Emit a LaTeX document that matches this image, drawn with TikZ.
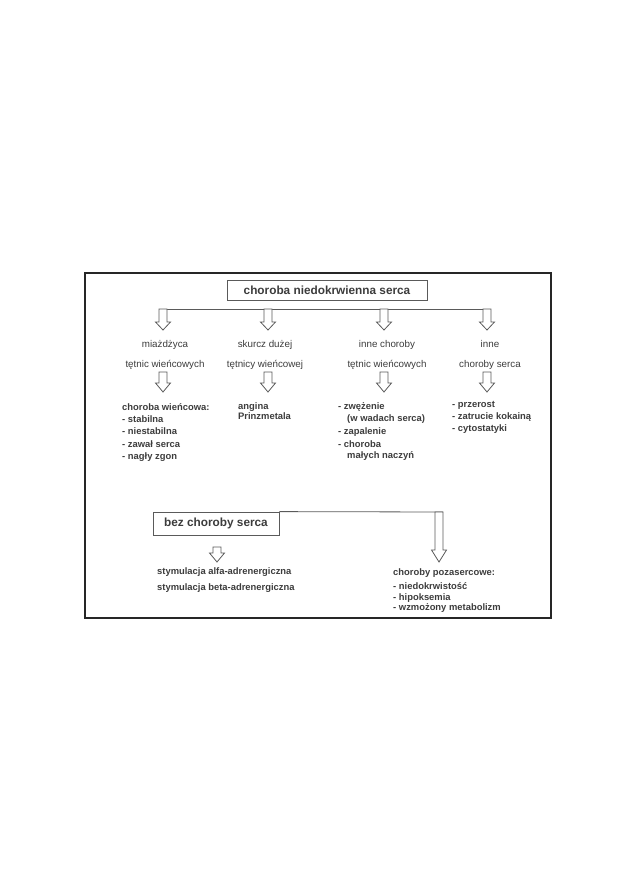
\documentclass[tikz,border=0pt]{standalone}
\usepackage{fontspec}
\setmainfont{Liberation Sans}
\usetikzlibrary{calc}
\definecolor{txt}{HTML}{3C3C3C}
\definecolor{ln}{HTML}{5A5A5A}
\newcommand{\harrow}[3][8]{\draw[hollow] ($(#2)+(-4,0)$) -- ($(#3)+(-4,-#1)$) -- ($(#3)+(-7.5,-#1)$) -- (#3) -- ($(#3)+(7.5,-#1)$) -- ($(#3)+(4,-#1)$) -- ($(#2)+(4,0)$) -- cycle;}

\begin{document}
\begin{tikzpicture}[x=1pt, y=-1pt,
  hdr/.style={font=\fontsize{9.8}{12}\selectfont, text=txt, inner sep=0pt, anchor=mid},
  item/.style={font=\bfseries\fontsize{9.4}{11}\selectfont, text=txt, inner sep=0pt, anchor=mid west},
  box/.style={draw=ln, line width=0.8pt, font=\bfseries\fontsize{11.8}{13}\selectfont, text=txt, inner sep=0pt},
  hollow/.style={draw=ln, line width=0.8pt, fill=white}]
\useasboundingbox (0,0) rectangle (630,893);
\draw[line width=1.1pt, black!85] (85,273) rectangle (551,618);

\node[box, minimum width=200pt, minimum height=20pt] (title) at (327,290) {choroba niedokrwienna serca};

\coordinate (a1) at (163,309); \coordinate (t1) at (163,330);
\coordinate (a2) at (268,309); \coordinate (t2) at (268,330);
\coordinate (a3) at (384,309); \coordinate (t3) at (384,330);
\coordinate (a4) at (487,309); \coordinate (t4) at (487,330);
\draw[ln, line width=0.8pt] ($(a1)+(-4,0)$) -- ($(a4)+(4,0)$);
\harrow{a1}{t1}
\harrow{a2}{t2}
\harrow{a3}{t3}
\harrow{a4}{t4}

\node[hdr] (h1a) at (165,345) {miażdżyca};
\node[hdr] (h1b) at (165,365) {tętnic wieńcowych};
\node[hdr] (h2a) at (265,345) {skurcz dużej};
\node[hdr] (h2b) at (265,365) {tętnicy wieńcowej};
\node[hdr] (h3a) at (387,345) {inne choroby};
\node[hdr] (h3b) at (387,365) {tętnic wieńcowych};
\node[hdr] (h4a) at (490,345) {inne};
\node[hdr] (h4b) at (490,365) {choroby serca};

\coordinate (c1) at (163,372); \coordinate (d1) at (163,392);
\coordinate (c2) at (268,372); \coordinate (d2) at (268,392);
\coordinate (c3) at (384,372); \coordinate (d3) at (384,392);
\coordinate (c4) at (487,372); \coordinate (d4) at (487,392);
\harrow[9]{c1}{d1}
\harrow[9]{c2}{d2}
\harrow[9]{c3}{d3}
\harrow[9]{c4}{d4}

\node[item] (l1a) at (122,408) {choroba wieńcowa:};
\node[item] (l1b) at (122,420) {- stabilna};
\node[item] (l1c) at (122,432) {- niestabilna};
\node[item] (l1d) at (122,445) {- zawał serca};
\node[item] (l1e) at (122,457) {- nagły zgon};

\node[item] (l2a) at (238,407) {angina};
\node[item] (l2b) at (238,417) {Prinzmetala};

\node[item] (l3a) at (338,407) {- zwężenie};
\node[item] (l3b) at (347,419) {(w wadach serca)};
\node[item] (l3c) at (338,432) {- zapalenie};
\node[item] (l3d) at (338,445) {- choroba};
\node[item] (l3e) at (347,456) {małych naczyń};

\node[item] (l4a) at (452,405) {- przerost};
\node[item] (l4b) at (452,417) {- zatrucie kokainą};
\node[item] (l4c) at (452,429) {- cytostatyki};

\node[box, minimum width=126pt, minimum height=23pt] (nobox) at (216,523.5) {bez choroby serca};
\coordinate (b1) at (439,512); \coordinate (b2) at (439,562);
\draw[ln, line width=0.8pt] (nobox.north east) -- ($(b1)+(4,0)$);
\harrow[12]{b1}{b2}
\coordinate (s1) at (217,547); \coordinate (s2) at (217,562);
\harrow[9]{s1}{s2}

\node[item] (m1) at (157,572) {stymulacja alfa-adrenergiczna};
\node[item] (m2) at (157,588) {stymulacja beta-adrenergiczna};

\node[item] (p1) at (393,573) {choroby pozasercowe:};
\node[item] (p2) at (393,587) {- niedokrwistość};
\node[item] (p3) at (393,598) {- hipoksemia};
\node[item] (p4) at (393,608) {- wzmożony metabolizm};
\end{tikzpicture}
\end{document}
